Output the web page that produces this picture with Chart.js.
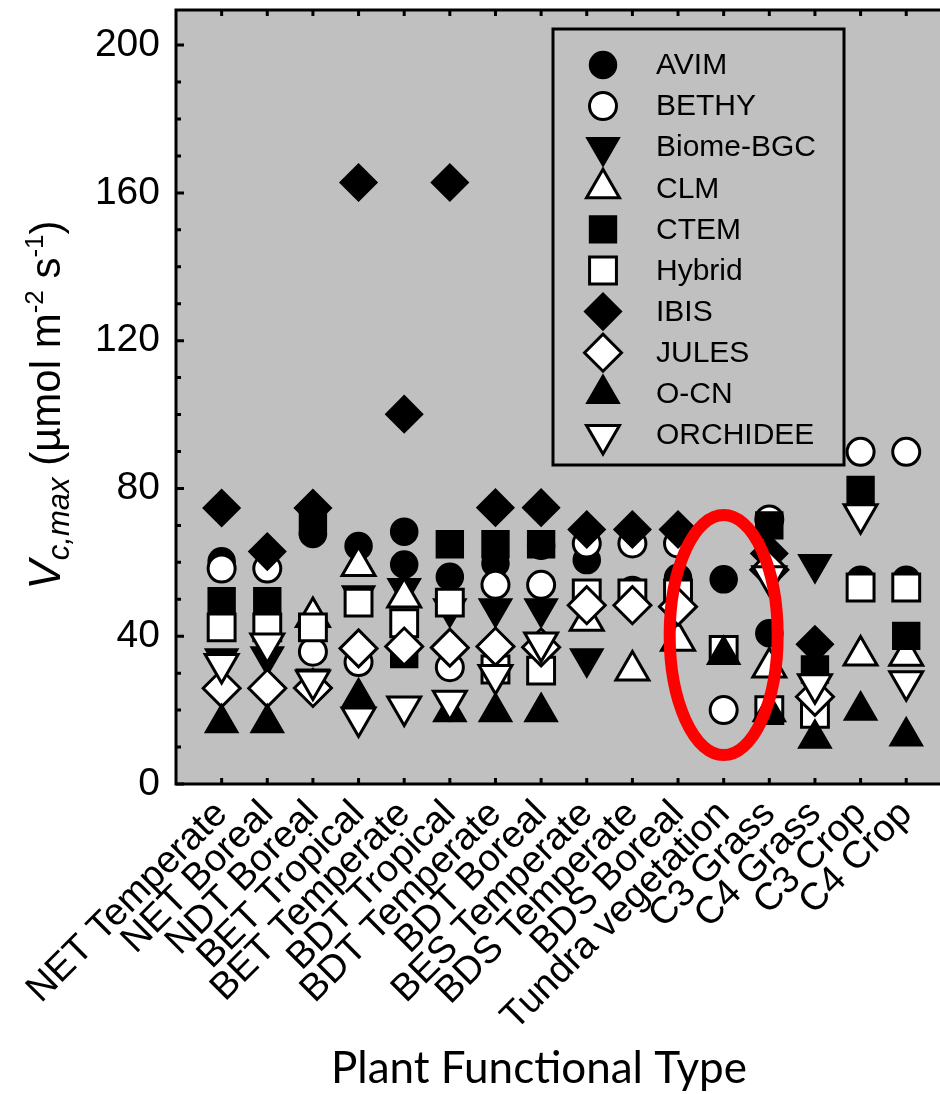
<!DOCTYPE html>
<html>
<head>
<meta charset="utf-8">
<script src="https://cdn.jsdelivr.net/npm/chart.js@4.4.0/dist/chart.umd.min.js"></script>
<style>
  html, body { margin: 0; padding: 0; background: #fff; }
  #wrap { width: 940px; height: 1094px; position: relative; }
</style>
</head>
<body>
<div id="wrap"><canvas id="vcmaxChart"></canvas></div>
<script>
// plant functional types (x axis)
const pfts = ['NET Temperate', 'NET Boreal', 'NDT Boreal', 'BET Tropical', 'BET Temperate',
  'BDT Tropical', 'BDT Temperate', 'BDT Boreal', 'BES Temperate', 'BDS Temperate',
  'BDS Boreal', 'Tundra vegetation', 'C3 Grass', 'C4 Grass', 'C3 Crop', 'C4 Crop'];
const yTicks = [0, 40, 80, 120, 160, 200];

// Vcmax per model, one value per PFT (null = no value)
const avim      = [60.3, null, 67.7, 64.4, 68.3, 56.1, 59.7, 64.5, 60.6, 52.5, 55.8, 55.4, 40.8, null, 55.3, 55.3];
const avimExtra = [null, null, null, null, 59.4, null, null, null, null, null, null, null, null, null, null, null];
const bethy     = [58.3, 58.3, 35.8, 33, null, 31.6, 53.9, 53.9, 65.1, 65.1, 65.1, 20, 71.6, null, 89.9, 89.9];
const biomeBgc  = [34, 34.5, 28.5, 51, 53, 47.5, 47.5, 47.5, 34, null, null, null, null, 59.5, null, null];
const clm       = [null, null, 45.2, 59, 50.5, null, null, null, 44.2, 30.7, 38.8, null, 31.5, null, 34.8, 34.7];
const ctem      = [49.5, 49.5, 71, null, 35.2, 64.9, 64.9, 64.9, null, null, null, null, 70, 31, 79.6, 40.1];
const hybrid    = [42.4, 42.4, 42.4, 49.1, 43.5, 49.1, 31, 30.7, 51.6, 51.6, 51.6, 36.3, 20, 19, 53.2, 53.2];
const ibis      = [74.7, 62.9, 74.7, 162.8, 100.1, 162.8, 74.8, 74.8, 68.9, 68.9, 68.9, null, 62.4, 37.8, null, null];
const jules     = [25.9, 25.9, 26, 36.7, 37.2, 36.9, 37.2, 37, 48.4, 48.4, 48, null, 58, 23.6, null, null];
const ocn       = [16.5, 16.5, null, 23.5, null, 19.5, 19.5, 19.5, null, null, null, 35, 19.5, 12.3, 19.9, 12.9];
const orchidee  = [32.5, 38, 28, 18, 21, 22.5, 29.5, 38.3, null, null, null, null, 56.2, 27, 73, 27.8];

const models = [
  { label: 'AVIM', series: [avim, avimExtra], shape: 'circle', filled: true },
  { label: 'BETHY', series: [bethy], shape: 'circle', filled: false },
  { label: 'Biome-BGC', series: [biomeBgc], shape: 'triangle', rotation: 180, filled: true },
  { label: 'CLM', series: [clm], shape: 'triangle', filled: false },
  { label: 'CTEM', series: [ctem], shape: 'rect', filled: true },
  { label: 'Hybrid', series: [hybrid], shape: 'rect', filled: false },
  { label: 'IBIS', series: [ibis], shape: 'rectRot', filled: true },
  { label: 'JULES', series: [jules], shape: 'rectRot', filled: false },
  { label: 'O-CN', series: [ocn], shape: 'triangle', filled: true },
  { label: 'ORCHIDEE', series: [orchidee], shape: 'triangle', rotation: 180, filled: false }
];

const shapeRadius = { circle: 13.5, rect: 19, rectRot: 18.5, triangle: 19 };
const FONT = '"Liberation Sans", Arial, sans-serif';

function markerStyle(m) {
  return {
    pointStyle: m.shape,
    radius: shapeRadius[m.shape],
    rotation: m.rotation || 0,
    background: m.filled ? '#000' : '#fff',
    borderWidth: m.filled ? 1.5 : 3
  };
}

const datasets = [];
models.forEach((m, i) => {
  const st = markerStyle(m);
  m.series.forEach(vals => {
    datasets.push({
      label: m.label,
      data: vals.map((v, k) => v == null ? null : { x: k + 1, y: v }).filter(p => p),
      showLine: false,
      order: models.length - i, // later models drawn on top
      pointStyle: st.pointStyle,
      pointRadius: st.radius,
      pointHoverRadius: st.radius,
      pointRotation: st.rotation,
      pointBackgroundColor: st.background,
      pointBorderColor: '#000',
      pointBorderWidth: st.borderWidth
    });
  });
});

const framePlugin = {
  id: 'frame',
  beforeDraw(chart) {
    const { ctx, chartArea: a } = chart;
    ctx.save();
    ctx.fillStyle = '#c0c0c0';
    ctx.fillRect(a.left, a.top, a.right - a.left, a.bottom - a.top);
    ctx.restore();
  },
  afterDatasetsDraw(chart) {
    const { ctx, chartArea: a, scales } = chart;
    const xs = scales.x, ys = scales.y;
    ctx.save();
    // red ellipse around tundra values
    ctx.strokeStyle = '#ff0000';
    ctx.lineWidth = 12;
    ctx.beginPath();
    ctx.ellipse(xs.getPixelForValue(12), ys.getPixelForValue(40.3), 54, 120, 0, 0, Math.PI * 2);
    ctx.stroke();

    // frame
    ctx.strokeStyle = '#000';
    ctx.lineWidth = 3;
    ctx.beginPath();
    ctx.moveTo(a.right + 2, a.top);
    ctx.lineTo(a.left, a.top);
    ctx.lineTo(a.left, a.bottom);
    ctx.lineTo(a.right + 2, a.bottom);
    ctx.stroke();

    // inward ticks
    ctx.beginPath();
    for (let v = 0; v <= 200; v += 10) {
      const y = ys.getPixelForValue(v);
      ctx.moveTo(a.left, y);
      ctx.lineTo(a.left + (v % 40 === 0 ? 8 : 5), y);
    }
    pfts.forEach((_, i) => {
      const x = xs.getPixelForValue(i + 1);
      ctx.moveTo(x, a.top);
      ctx.lineTo(x, a.top + 6);
      ctx.moveTo(x, a.bottom);
      ctx.lineTo(x, a.bottom - 6);
    });
    ctx.stroke();
    ctx.restore();
  },
  afterDraw(chart) {
    const { ctx } = chart;
    ctx.save();

    // legend box
    ctx.strokeStyle = '#000';
    ctx.lineWidth = 3;
    ctx.strokeRect(553, 29, 291, 436);
    ctx.font = '30px ' + FONT;
    ctx.textBaseline = 'middle';
    ctx.textAlign = 'left';
    models.forEach((m, i) => {
      const y = 65 + i * 41.1;
      const st = markerStyle(m);
      ctx.fillStyle = st.background;
      ctx.strokeStyle = '#000';
      ctx.lineWidth = st.borderWidth;
      if (Chart.helpers && Chart.helpers.drawPoint) {
        Chart.helpers.drawPoint(ctx, {
          pointStyle: st.pointStyle, rotation: st.rotation,
          radius: st.radius, borderWidth: st.borderWidth
        }, 603, y);
      }
      ctx.fillStyle = '#000';
      ctx.fillText(m.label, 656, y + 1);
    });

    // y axis title with sub/superscripts
    const parts = [
      { t: 'V', f: 'italic 44px ' + FONT, dy: 0 },
      { t: 'c,max', f: 'italic 31px ' + FONT, dy: 9 },
      { t: ' (\u00b5mol m', f: '42px ' + FONT, dy: 0 },
      { t: '-2', f: '26px ' + FONT, dy: -17 },
      { t: ' s', f: '42px ' + FONT, dy: 0 },
      { t: '-1', f: '26px ' + FONT, dy: -17 },
      { t: ')', f: '42px ' + FONT, dy: 0 }
    ];
    let total = 0;
    parts.forEach(p => { ctx.font = p.f; p.w = ctx.measureText(p.t).width; total += p.w; });
    ctx.translate(60, 405);
    ctx.rotate(-Math.PI / 2);
    ctx.textBaseline = 'alphabetic';
    ctx.fillStyle = '#000';
    let x = -total / 2;
    parts.forEach(p => { ctx.font = p.f; ctx.fillText(p.t, x, p.dy); x += p.w; });
    ctx.setTransform(1, 0, 0, 1, 0, 0);

    // x axis title
    ctx.font = '44px Lato, "Open Sans", sans-serif';
    ctx.textAlign = 'center';
    ctx.textBaseline = 'alphabetic';
    ctx.fillText('Plant Functional Type', 539, 1083);
    ctx.restore();
  }
};

Chart.defaults.font.family = FONT;
Chart.defaults.color = '#000';

new Chart(document.getElementById('vcmaxChart'), {
  type: 'scatter',
  data: { datasets },
  options: {
    responsive: true,
    maintainAspectRatio: false,
    animation: false,
    layout: { autoPadding: false, padding: { top: 10, left: 0, right: 0, bottom: 0 } },
    plugins: { legend: { display: false }, tooltip: { enabled: false } },
    scales: {
      x: {
        type: 'linear',
        min: 0,
        max: 16.74,
        grid: { display: false, drawTicks: false },
        border: { display: false },
        afterFit: s => { s.height = 310; s.paddingLeft = 0; s.paddingRight = 0; },
        afterBuildTicks: s => { s.ticks = pfts.map((_, i) => ({ value: i + 1 })); },
        ticks: {
          autoSkip: false,
          minRotation: 45,
          maxRotation: 45,
          padding: 8,
          font: { size: 38 },
          callback: v => pfts[v - 1] || ''
        }
      },
      y: {
        min: 0,
        max: 209.5,
        grid: { display: false, drawTicks: false },
        border: { display: false },
        afterFit: s => { s.width = 176; s.paddingTop = 0; s.paddingBottom = 0; },
        afterBuildTicks: s => { s.ticks = yTicks.map(v => ({ value: v })); },
        ticks: { padding: 16, font: { size: 39 } }
      }
    }
  },
  plugins: [framePlugin]
});
</script>
</body>
</html>
